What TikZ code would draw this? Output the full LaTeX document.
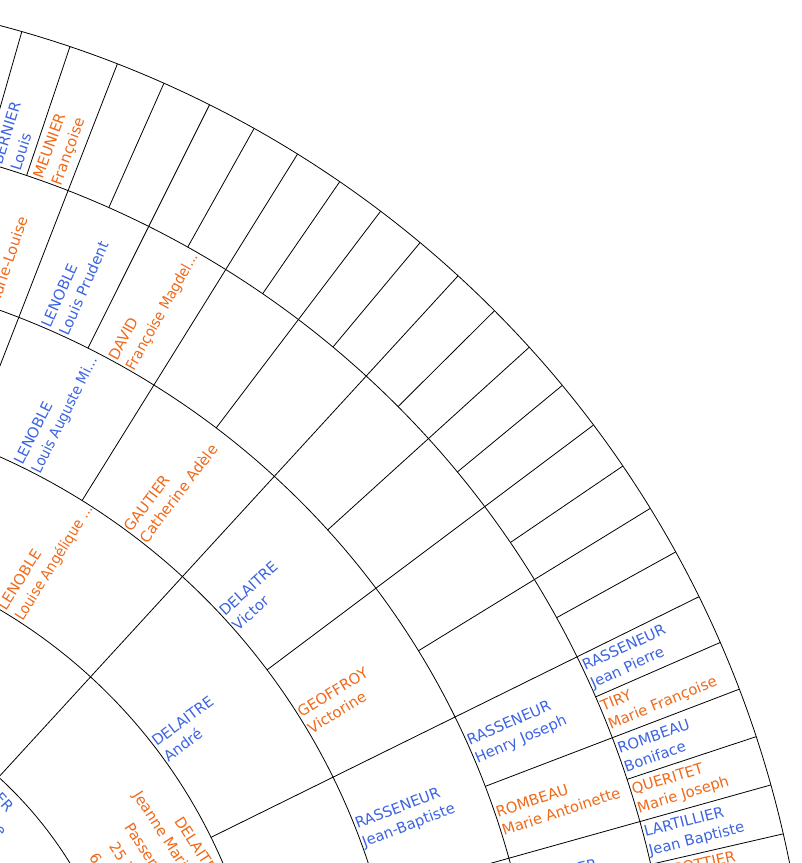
\documentclass[tikz,border=0pt]{standalone}
\usepackage{fontspec}
\setmainfont{DejaVu Sans}
\definecolor{mblue}{RGB}{60,100,225}
\definecolor{forange}{RGB}{240,105,25}
\newcommand\fanperson[6]{%
  \node[#4, rotate=#2] (#1) at (#2:#3) {#5\\#6};}
\newcommand\narrow[1]{\scalebox{0.92}[1]{#1}}
\begin{document}
\begin{tikzpicture}[x=1pt,y=1pt,
  grid/.style={line width=0.8pt, black},
  person/.style={anchor=west, align=left, inner sep=1.5pt,
    font=\fontsize{14.8}{19.5}\selectfont},
  male/.style={person, text=mblue},
  female/.style={person, text=forange},
  tang/.style={inner sep=0pt, font=\fontsize{14.8}{19.5}\selectfont}]
\useasboundingbox (277,215) rectangle (1079,1078);
\clip (277,215) rectangle (1079,1078);
% rings
\foreach \k in {1,...,8}{
  \pgfmathsetmacro\rr{136*\k}
  \draw[grid] (-80:\rr) arc[start angle=-80, end angle=260, radius=\rr pt];
}
% radial separators
\foreach \g in {1,...,7}{
  \pgfmathtruncatemacro\N{2^\g}
  \pgfmathsetmacro\st{340/\N}
  \pgfmathsetmacro\ri{136*\g}
  \pgfmathsetmacro\ro{136*\g+136}
  \foreach \n in {0,...,\N}{
    \pgfmathsetmacro\t{-80+\n*\st}
    \draw[grid] (\t:\ri) -- (\t:\ro);
  }
}
% generation 7
\fanperson{g7a}{72.734}{952}{male}{BERNIER}{Louis}
\fanperson{g7b}{70.078}{952}{female}{MEUNIER}{Françoise}
\fanperson{g7c}{24.922}{952}{male}{RASSENEUR}{Jean Pierre}
\fanperson{g7d}{22.266}{952}{female}{TIRY}{Marie Françoise}
\fanperson{g7e}{19.609}{952}{male}{ROMBEAU}{Boniface}
\fanperson{g7f}{16.953}{952}{female}{QUERITET}{Marie Joseph}
\fanperson{g7g}{14.297}{952}{male}{LARTILLIER}{Jean Baptiste}
\fanperson{g7h}{11.641}{972}{female}{POTTIER}{\strut}
% generation 6
\fanperson{g6a}{71.406}{816}{female}{BERNIER}{Marie-Louise}
\fanperson{g6b}{66.094}{816}{male}{LENOBLE}{Louis Prudent}
\fanperson{g6c}{60.781}{816}{female}{DAVID}{\narrow{Françoise Magdel...}}
\fanperson{g6d}{23.594}{816}{male}{RASSENEUR}{Henry Joseph}
\fanperson{g6e}{18.281}{816}{female}{ROMBEAU}{Marie Antoinette}
\fanperson{g6f}{12.969}{816}{male}{LARTILLIER}{\strut}
% generation 5
\fanperson{g5a}{63.4375}{680}{male}{LENOBLE}{\narrow{Louis Auguste Mi...}}
\fanperson{g5b}{52.8125}{680}{female}{GAUTIER}{Catherine Adèle}
\fanperson{g5c}{42.1875}{680}{male}{DELAITRE}{Victor}
\fanperson{g5d}{31.5625}{680}{female}{GEOFFROY}{Victorine}
\fanperson{g5e}{20.9375}{680}{male}{RASSENEUR}{Jean-Baptiste}
% generation 4
\fanperson{g4a}{58.125}{544}{female}{LENOBLE}{\narrow{Louise Angélique ...}}
\fanperson{g4b}{36.875}{544}{male}{DELAITRE}{André}
% generation 3 (text along the ring)
\node[tang, text=forange, rotate=-57, anchor=north west] (g3a) at (460,263) {DELAITRE};
\node[tang, text=forange, rotate=-57, anchor=north west] (g3b) at (419,289) {Jeanne Marie};
\node[tang, text=forange, rotate=-57, anchor=north west] (g3c) at (410,257) {Passen};
\node[tang, text=forange, rotate=-57, anchor=north west] (g3d) at (395,238) {25 i};
\node[tang, text=forange, rotate=-57, anchor=north west] (g3e) at (375,227) {6};
% generation 2 (text along the ring)
\node[tang, text=mblue, rotate=-48, anchor=north east] (g2a) at (292,272) {ER};
\node[tang, text=mblue, rotate=-48, anchor=north east] (g2b) at (285,248) {te};
\end{tikzpicture}
\end{document}
